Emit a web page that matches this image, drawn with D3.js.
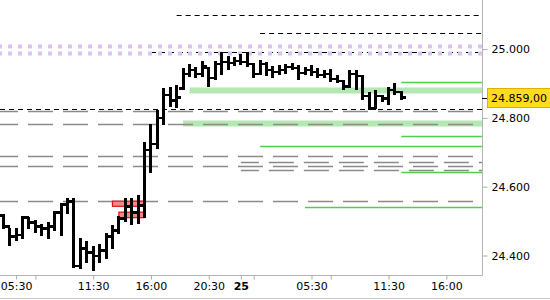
<!DOCTYPE html>
<html>
<head>
<meta charset="utf-8">
<script src="https://cdn.jsdelivr.net/npm/d3@7"></script>
<style>
  body { margin: 0; background: #fff; }
  svg { display: block; font-family: "DejaVu Sans", Verdana, sans-serif; }
</style>
</head>
<body>
<div id="chart"></div>
<script>
// 30 min OHLC bars, day 24 (04:30) -> day 25 (12:30)
var opens  = [24516,24484,24455,24460,24510,24496,24484,24478,24484,24525,24548,24557,24370,24420,24408,24399,24414,24455,24472,24507,
              24542,24525,24545,24706,24724,24799,24866,24851,24886,24927,24939,24927,24945,24916,24957,24962,24960,24965,24962,24957,
              24927,24957,24939,24933,24939,24948,24945,24930,24939,24933,24924,24927,24913,24907,24892,24927,24922,24863,24828,24863,
              24857,24881,24875];
var highs  = [24522,24481,24481,24516,24512,24504,24492,24496,24530,24554,24567,24568,24452,24443,24428,24434,24466,24490,24516,24567,
              24568,24577,24729,24782,24822,24886,24889,24895,24945,24957,24948,24965,24948,24965,24992,24980,24977,24986,24992,24959,
              24968,24962,24951,24954,24957,24959,24954,24948,24954,24945,24939,24942,24924,24910,24939,24939,24924,24875,24881,24866,
              24889,24901,24878];
var lows   = [24478,24428,24443,24449,24478,24466,24458,24449,24472,24458,24522,24364,24361,24379,24355,24379,24390,24420,24463,24496,
              24490,24492,24510,24641,24711,24779,24831,24828,24881,24919,24916,24919,24889,24910,24924,24939,24951,24954,24948,24916,
              24924,24922,24916,24924,24927,24939,24910,24924,24922,24916,24916,24904,24901,24881,24886,24881,24851,24822,24825,24846,
              24837,24866,24851];
var closes = [24484,24455,24460,24510,24496,24484,24478,24484,24525,24548,24557,24370,24420,24408,24399,24414,24455,24472,24507,24542,
              24525,24545,24706,24724,24799,24866,24851,24860,24927,24939,24927,24951,24916,24957,24962,24960,24965,24962,24957,24927,
              24957,24939,24933,24939,24948,24945,24930,24939,24933,24924,24927,24913,24907,24892,24927,24922,24863,24828,24863,24857,
              24881,24875,24859];

var timeTicks  = [2, 5, 14, 23, 32, 37, 39, 48, 51, 60, 69];
var timeLabels = ["05:30", "", "11:30", "16:00", "20:30", "25", "", "05:30", "", "11:30", "16:00"];
var priceTicks = [24400, 24600, 24800, 25000];
var lastPrice = 24859;

// levels: price + bar index where the line starts
var blackLevels  = [25100, 25048, 24992, 24825];
var blackStarts  = [27, 40, 23, -1];
var purpleLevels = [25010, 24988];
var grayLevels   = [24819, 24781, 24688, 24660, 24558, 24671, 24649];
var grayStarts   = [-1, -1, -1, -1, -1, 37, 37];
var bandLevels   = [24882, 24784];
var bandStarts   = [29, 28];
var greenLevels  = [24905, 24746, 24719, 24642, 24542];
var greenStarts  = [62, 62, 40, 62, 47];
var boxTops      = [24558, 24526];
var boxBottoms   = [24543, 24510];
var boxStarts    = [17, 18];
var boxEnds      = [22, 22];

var w = 550, h = 300;
var plotW = 482, plotH = 275;

var loc = d3.formatLocale({decimal: ",", thousands: ".", grouping: [3], currency: ["", ""]});
var fmtInt = loc.format(",.0f");
var fmtDec = loc.format(",.2f");

var x = d3.scaleLinear().domain([0, 69]).range([3.3, 446.3]);
var y = d3.scaleLinear().domain([24400, 25000]).range([255.5, 49.1]);

var svg = d3.select("#chart").append("svg")
    .attr("width", w)
    .attr("height", h);

svg.append("defs").append("clipPath").attr("id", "plot")
  .append("rect").attr("width", plotW).attr("height", plotH);

var g = svg.append("g").attr("clip-path", "url(#plot)");

// helper for horizontal level lines
function levels(prices, starts, stroke, width, dash, offset) {
  return g.append("g").selectAll("line")
    .data(prices)
    .join("line")
      .attr("x1", function(d, i) { return Math.max(0, x(starts[i])); })
      .attr("x2", plotW)
      .attr("y1", function(d) { return Math.round(y(d)) + 0.5; })
      .attr("y2", function(d) { return Math.round(y(d)) + 0.5; })
      .attr("stroke", stroke)
      .attr("stroke-width", width)
      .attr("stroke-dasharray", dash)
      .attr("stroke-dashoffset", offset);
}

var allStart = purpleLevels.map(function() { return -1; });

levels(bandLevels, bandStarts, "#b3e8b3", 6, null, 0);
levels(grayLevels, grayStarts, "#8a8a8a", 1.3, "25,10", 7);
levels(blackLevels, blackStarts, "#000", 1, "5,4", 0);
levels(purpleLevels, allStart, "#dcc3f2", 4, "4,6", 2);
levels(greenLevels, greenStarts, "#4fce4f", 1.5, null, 0);

// red zones
g.append("g").selectAll("rect")
  .data(boxTops)
  .join("rect")
    .attr("x", function(d, i) { return x(boxStarts[i]); })
    .attr("y", function(d) { return y(d); })
    .attr("width", function(d, i) { return x(boxEnds[i]) - x(boxStarts[i]); })
    .attr("height", function(d, i) { return y(boxBottoms[i]) - y(d); })
    .attr("fill", "#f38888")
    .attr("stroke", "#e01010")
    .attr("stroke-width", 1.2);

// OHLC bars
var idx = d3.range(opens.length);
var bg = g.append("g").attr("stroke", "#000").attr("shape-rendering", "crispEdges");

bg.selectAll(".hl").data(idx).join("line")
  .attr("class", "hl")
  .attr("x1", function(i) { return x(i); })
  .attr("x2", function(i) { return x(i); })
  .attr("y1", function(i) { return y(highs[i]); })
  .attr("y2", function(i) { return y(lows[i]); })
  .attr("stroke-width", 3);

bg.selectAll(".op").data(idx).join("line")
  .attr("class", "op")
  .attr("x1", function(i) { return x(i) - 4.5; })
  .attr("x2", function(i) { return x(i); })
  .attr("y1", function(i) { return y(opens[i]); })
  .attr("y2", function(i) { return y(opens[i]); })
  .attr("stroke-width", 2.5);

bg.selectAll(".cl").data(idx).join("line")
  .attr("class", "cl")
  .attr("x1", function(i) { return x(i); })
  .attr("x2", function(i) { return x(i) + 4.5; })
  .attr("y1", function(i) { return y(closes[i]); })
  .attr("y2", function(i) { return y(closes[i]); })
  .attr("stroke-width", 2.5);

// time axis
var xAxis = d3.axisBottom(x)
  .tickValues(timeTicks)
  .tickFormat(function(d, i) { return timeLabels[i]; })
  .tickSize(4)
  .tickPadding(3)
  .tickSizeOuter(0);

var gx = svg.append("g")
  .attr("transform", "translate(0," + (plotH + 0.5) + ")")
  .call(xAxis);
gx.select(".domain").remove();
gx.selectAll(".tick line").attr("stroke", "#aaa");
gx.selectAll(".tick text")
  .attr("fill", "#000")
  .style("font-size", "11px")
  .style("font-family", "DejaVu Sans, sans-serif")
  .style("font-weight", function(d) { return d === 37 ? "bold" : "normal"; });

// price axis
var yAxis = d3.axisRight(y)
  .tickValues(priceTicks)
  .tickFormat(fmtInt)
  .tickSize(5)
  .tickPadding(4)
  .tickSizeOuter(0);

var gy = svg.append("g")
  .attr("transform", "translate(" + (plotW + 0.5) + ",0)")
  .call(yAxis);
gy.select(".domain").remove();
gy.selectAll(".tick line").attr("stroke", "#aaa");
gy.selectAll(".tick text")
  .attr("fill", "#000")
  .style("font-size", "11px")
  .style("font-family", "DejaVu Sans, sans-serif");

// frame lines
svg.append("line")
  .attr("x1", 0).attr("x2", plotW + 0.5)
  .attr("y1", plotH + 0.5).attr("y2", plotH + 0.5)
  .attr("stroke", "#b4b4b4");
svg.append("line")
  .attr("x1", plotW + 0.5).attr("x2", plotW + 0.5)
  .attr("y1", 0).attr("y2", plotH + 0.5)
  .attr("stroke", "#b4b4b4");
svg.append("line")
  .attr("x1", 0).attr("x2", w)
  .attr("y1", h - 1.5).attr("y2", h - 1.5)
  .attr("stroke", "#c8c8c8");

// last price marker
var ly = y(lastPrice);
svg.append("line")
  .attr("x1", plotW).attr("x2", plotW + 5)
  .attr("y1", Math.round(ly) + 0.5).attr("y2", Math.round(ly) + 0.5)
  .attr("stroke", "#000");
svg.append("rect")
  .attr("x", plotW + 5.5)
  .attr("y", Math.round(ly) - 9.5)
  .attr("width", w - plotW)
  .attr("height", 19)
  .attr("fill", "#ffdc1e")
  .attr("stroke", "#e0b000");
svg.append("text")
  .attr("x", plotW + 9)
  .attr("y", ly)
  .attr("dy", "0.36em")
  .style("font-size", "11px")
  .attr("fill", "#000")
  .text(fmtDec(lastPrice));
</script>
</body>
</html>
